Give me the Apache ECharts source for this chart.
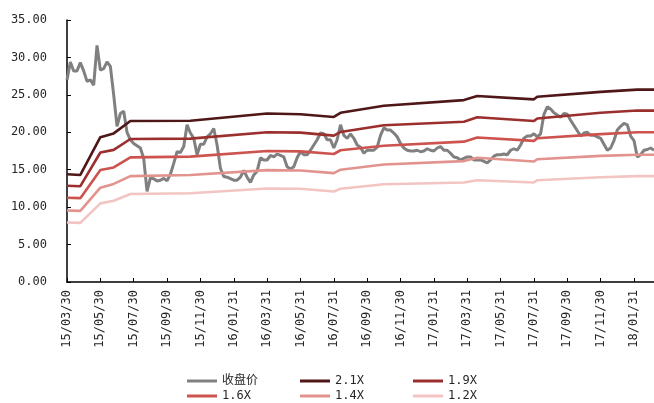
<!DOCTYPE html>
<html>
<head>
<meta charset="utf-8">
<script src="https://cdn.jsdelivr.net/npm/echarts@6/dist/echarts.min.js"></script>
<style>
  html, body { margin: 0; padding: 0; background: #fff; }
  #chart { width: 654px; height: 403px; }
</style>
</head>
<body>
<div id="chart"></div>
<script>
// Date labels shown on the x axis, one every STEP samples
const tickLabels = [
  '15/03/30', '15/05/30', '15/07/30', '15/09/30', '15/11/30', '16/01/31',
  '16/03/31', '16/05/31', '16/07/31', '16/09/30', '16/11/30', '17/01/31',
  '17/03/31', '17/05/31', '17/07/31', '17/09/30', '17/11/30', '18/01/31'
];
const STEP = 10;

// Closing price (收盘价), sampled along the period
const closePrice = [
  27.0, 29.4, 28.2, 28.2, 29.3, 28.2, 26.8, 27.0, 26.3, 31.6,
  28.3, 28.5, 29.4, 28.8, 25.0, 20.8, 22.5, 22.8, 20.0, 19.0,
  18.5, 18.2, 17.9, 16.5, 12.1, 13.9, 13.8, 13.5, 13.6, 13.85,
  13.5, 14.4, 15.85, 17.4, 17.3, 18.1, 21.0, 19.9, 19.2, 17.0,
  18.4, 18.4, 19.4, 19.8, 20.5, 18.3, 15.2, 14.1, 14.0, 13.8,
  13.6, 13.6, 14.0, 14.9, 14.0, 13.3, 14.3, 14.8, 16.6, 16.3,
  16.3, 16.9, 16.7, 17.1, 16.9, 16.7, 15.4, 15.1, 15.4, 16.6,
  17.4, 17.0, 17.0, 17.6, 18.3, 19.0, 19.9, 19.8, 19.0, 19.0,
  17.9, 19.0, 21.0, 19.6, 19.2, 19.8, 19.2, 18.3, 18.0, 17.2,
  17.6, 17.6, 17.6, 18.0, 19.6, 20.6, 20.3, 20.3, 19.9, 19.4,
  18.5, 17.9, 17.6, 17.5, 17.5, 17.6, 17.4, 17.5, 17.8, 17.6,
  17.5, 17.9, 18.1, 17.6, 17.6, 17.2, 16.7, 16.6, 16.3, 16.5,
  16.7, 16.7, 16.3, 16.3, 16.3, 16.1, 15.9, 16.3, 16.8, 17.0,
  17.0, 17.1, 17.0, 17.6, 17.8, 17.6, 18.3, 19.2, 19.5, 19.5,
  19.8, 19.4, 19.8, 22.4, 23.4, 23.1, 22.6, 22.3, 22.0, 22.5,
  22.4, 21.6, 20.9, 20.2, 19.5, 19.9, 20.0, 19.6, 19.6, 19.4,
  19.2, 18.4, 17.6, 17.9, 18.9, 20.3, 20.8, 21.2, 21.0, 19.5,
  18.9, 16.7, 17.0, 17.6, 17.7, 17.9, 17.6
];

// Sample indices where the valuation bands change slope
const bandBreaks = [0, 4, 10, 14, 19, 37, 60, 70, 80, 82, 95, 119, 123, 140, 141, 160, 171, 176];

// Band values at each break
const band21 = [14.4, 14.3, 19.35, 19.85, 21.5, 21.55, 22.5, 22.4, 22.05, 22.6, 23.55, 24.3, 24.85, 24.4, 24.75, 25.4, 25.7, 25.7];
const band19 = [12.85, 12.8, 17.3, 17.65, 19.1, 19.15, 20.0, 19.95, 19.55, 20.05, 20.95, 21.4, 22.0, 21.5, 21.85, 22.6, 22.9, 22.9];
const band16 = [11.25, 11.2, 14.95, 15.3, 16.65, 16.75, 17.5, 17.45, 17.1, 17.6, 18.2, 18.75, 19.3, 18.85, 19.2, 19.75, 20.0, 20.0];
const band14 = [9.55, 9.5, 12.6, 13.1, 14.15, 14.3, 14.95, 14.9, 14.55, 15.0, 15.7, 16.15, 16.6, 16.1, 16.4, 16.85, 17.0, 17.0];
const band12 = [7.95, 7.9, 10.5, 10.85, 11.75, 11.85, 12.5, 12.45, 12.1, 12.45, 13.05, 13.3, 13.6, 13.3, 13.6, 14.0, 14.15, 14.15];

// Y axis range
const yMin = 0, yMax = 35, yStep = 5;

const seriesNames = ['收盘价', '2.1X', '1.9X', '1.6X', '1.4X', '1.2X'];
const colors = ['#808080', '#4f1717', '#9a2f2d', '#cc534e', '#e2938e', '#f2c4c2'];

const FONT = '"DejaVu Sans Mono", "Noto Sans CJK SC", monospace';

const categories = closePrice.map((_, i) => String(i));
const pairs = arr => bandBreaks.map((b, k) => [b, arr[k]]);

const chart = echarts.init(document.getElementById('chart'), null, { renderer: 'canvas' });

const bandSets = [band21, band19, band16, band14, band12];

const series = [{
  name: seriesNames[0],
  type: 'line',
  data: closePrice,
  showSymbol: false,
  symbol: 'none',
  lineStyle: { width: 3, color: colors[0] },
  itemStyle: { color: colors[0] },
  z: 2
}].concat(bandSets.map((arr, k) => ({
  name: seriesNames[k + 1],
  type: 'line',
  data: pairs(arr),
  showSymbol: false,
  symbol: 'none',
  lineStyle: { width: 2.6, color: colors[k + 1] },
  itemStyle: { color: colors[k + 1] },
  z: 3
})));

// Legend: two rows of three fixed columns
const colLeft = [187, 300, 413];
const rowTop = [375, 390];
const legends = seriesNames.map((name, k) => ({
  data: [name],
  left: colLeft[k % 3],
  top: rowTop[Math.floor(k / 3)],
  padding: 0,
  icon: 'rect',
  itemWidth: 30,
  itemHeight: 3,
  textStyle: { fontFamily: FONT, fontSize: 12, color: '#262626' },
  selectedMode: false
}));

chart.setOption({
  animation: false,
  backgroundColor: '#fff',
  color: colors,
  grid: { left: 67, right: 0, top: 20, bottom: 121, containLabel: false },
  legend: legends,
  xAxis: {
    type: 'category',
    data: categories,
    boundaryGap: false,
    axisLine: { lineStyle: { color: '#000', width: 1.5 } },
    axisTick: { inside: true, length: 4, interval: i => i % STEP === 0, lineStyle: { color: '#000' } },
    axisLabel: {
      interval: i => i % STEP === 0,
      rotate: 90,
      margin: 8,
      fontFamily: FONT,
      fontSize: 12,
      color: '#262626',
      formatter: (v, i) => tickLabels[i / STEP] || ''
    },
    splitLine: { show: false }
  },
  yAxis: {
    type: 'value',
    min: yMin,
    max: yMax,
    interval: yStep,
    axisLine: { show: true, lineStyle: { color: '#000', width: 1.5 } },
    axisTick: { show: true, inside: true, length: 4, lineStyle: { color: '#000' } },
    axisLabel: {
      margin: 20,
      fontFamily: FONT,
      fontSize: 12,
      color: '#262626',
      formatter: v => v.toFixed(2)
    },
    splitLine: { show: false }
  },
  series: series
});
</script>
</body>
</html>
